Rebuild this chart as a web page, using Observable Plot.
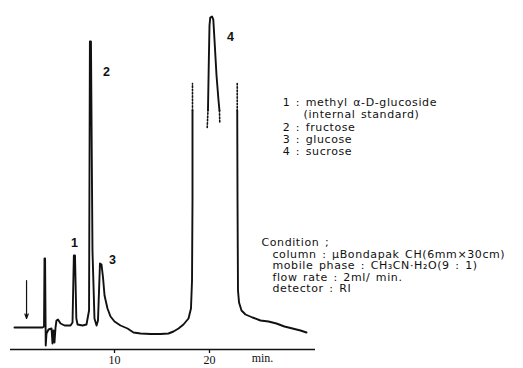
<!DOCTYPE html>
<html><head><meta charset="utf-8">
<script src="https://cdn.jsdelivr.net/npm/d3@7"></script>
<script src="https://cdn.jsdelivr.net/npm/@observablehq/plot@0.6"></script>
<style>
html,body{margin:0;padding:0;background:#fff;}
#chart svg{display:block;}
</style></head>
<body><div id="chart"></div>
<script>
// Retention time (min) and detector response (arbitrary units)
const mainTime   = [-0.53,2.21,2.42,2.58,2.63,2.69,2.76,2.84,3.05,3.37,3.47,3.58,3.68,3.79,3.89,4.05,4.32,4.74,5.37,5.58,5.72,5.84,5.98,6.11,6.63,7.05,7.32,7.41,7.52,7.68,7.89,8.11,8.26,8.47,8.63,8.79,8.95,9.26,9.58,10.0,10.63,11.37,12.0,12.74,13.79,14.84,15.68,16.21,16.74,17.26,17.79,18.05,18.16,18.21,18.21];
const mainSignal = [0,0,0,0.1,6.9,6.9,-1.8,-0.6,-0.2,-0.1,-1.6,-0.3,-1.5,0,0.7,0.8,0.4,0.2,0.2,0.5,7.2,7.2,0.9,0.3,0.2,0.3,1.7,28.6,28.6,7.7,0.9,0.2,0.7,6.4,6.3,5.0,3.2,1.9,1.1,0.6,0.2,-0.1,-0.5,-0.6,-0.65,-0.65,-0.6,-0.4,-0.1,0.3,0.9,1.9,4.7,12.7,21.7];
const offLeftTime   = [18.21,18.21];
const offLeftSignal = [21.7,24.4];
const topTime   = [19.84,19.93,20.0,20.08,20.26,20.4,20.53,20.74,20.95,21.05];
const topSignal = [21.7,26.7,30.2,31.0,31.1,30.8,28.7,25.2,22.7,21.7];
const topLeftDotTime   = [19.76,19.84];
const topLeftDotSignal = [20.0,21.7];
const topRightDotTime   = [21.05,21.08];
const topRightDotSignal = [21.7,20.5];
const offRightTime   = [22.92,22.92];
const offRightSignal = [24.4,21.7];
const tailTime   = [22.92,22.95,23.0,23.11,23.37,23.79,24.53,25.37,26.21,27.05,27.89,28.74,29.58,30.21];
const tailSignal = [21.7,12.7,3.7,2.5,1.7,1.3,1.0,0.7,0.6,0.4,0.1,-0.1,-0.3,-0.5];

const peakLabels = ["1","2","3","4"];
const peakLabelTime = [5.79,9.16,9.79,22.21];
const peakLabelSignal = [8.5,25.6,6.8,29.1];

const injectTime = 0.74;
const xTicks = [10,20];
const xUnit = "min.";

const legendItems = ["1 : methyl α-D-glucoside","(internal standard)","2 : fructose","3 : glucose","4 : sucrose"];
const conditionLines = ["Condition ;","column : μBondapak CH(6mm×30cm)","mobile phase : CH₃CN·H₂O(9 : 1)","flow rate : 2ml/ min.","detector : RI"];

function rows(ts, ss, seg){ return ts.map((t,i)=>({t, s: ss[i], seg})); }
const solid = [
  ...rows(mainTime, mainSignal, "main"),
  ...rows(topTime, topSignal, "top"),
  ...rows(tailTime, tailSignal, "tail")
];
const dotted = [
  ...rows(offLeftTime, offLeftSignal, "a"),
  ...rows(topLeftDotTime, topLeftDotSignal, "b"),
  ...rows(topRightDotTime, topRightDotSignal, "c"),
  ...rows(offRightTime, offRightSignal, "d")
];
const peaks = peakLabels.map((l,i)=>({l, t: peakLabelTime[i], s: peakLabelSignal[i]}));

const sans = "'DejaVu Sans', 'Liberation Sans', sans-serif";
const serif = "'Liberation Serif', 'DejaVu Serif', serif";

const chart = Plot.plot({
  width: 523, height: 368,
  marginLeft: 10, marginRight: 208, marginTop: 17, marginBottom: 19,
  x: {domain: [-0.95, 31.16], axis: null, label: null},
  y: {domain: [-2.2, 31.0], axis: null, label: null},
  style: {fontFamily: sans, color: "#111", background: "#fff"},
  marks: [
    Plot.ruleY([-2.2], {stroke: "#111", strokeWidth: 1.5}),
    Plot.axisX({ticks: xTicks, label: null, tickSize: 4, tickPadding: 2, fontSize: 12, fontFamily: serif, stroke: "#111", strokeWidth: 1.3}),
    Plot.text([xUnit], {x: 25.58, frameAnchor: "bottom", dy: 12, fontSize: 12, fontFamily: serif}),
    Plot.line(solid, {x: "t", y: "s", z: "seg", stroke: "#111", strokeWidth: 1.9, strokeLinejoin: "round", curve: "linear"}),
    Plot.line(dotted, {x: "t", y: "s", z: "seg", stroke: "#111", strokeWidth: 1.6, strokeDasharray: "1.5,1.8"}),
    Plot.arrow([injectTime], {x1: d => d, x2: d => d, y1: 4.7, y2: 0.9, stroke: "#111", strokeWidth: 1.2, headLength: 6, headAngle: 40}),
    Plot.text(peaks, {x: "t", y: "s", text: "l", fontSize: 12.5, fontWeight: "bold", fontFamily: "'Liberation Sans', sans-serif"}),
    Plot.text(legendItems, {x: (d,i) => i === 1 ? 29.9 : 27.7, y: (d,i) => 22.5 - i*1.23, text: d => d, textAnchor: "start", fontSize: 11, fill: "#111"}),
    Plot.text(conditionLines, {x: (d,i) => i === 0 ? 25.47 : 26.63, y: (d,i) => 8.5 - i*1.16, text: d => d, textAnchor: "start", fontSize: 11, fill: "#111"})
  ]
});
const wide = new Set([...legendItems, ...conditionLines]);
d3.select(chart).selectAll("text").filter(function(){ return wide.has(this.textContent); })
  .style("letter-spacing", "0.6px").style("word-spacing", "1.5px");
document.getElementById("chart").appendChild(chart);
</script></body></html>
